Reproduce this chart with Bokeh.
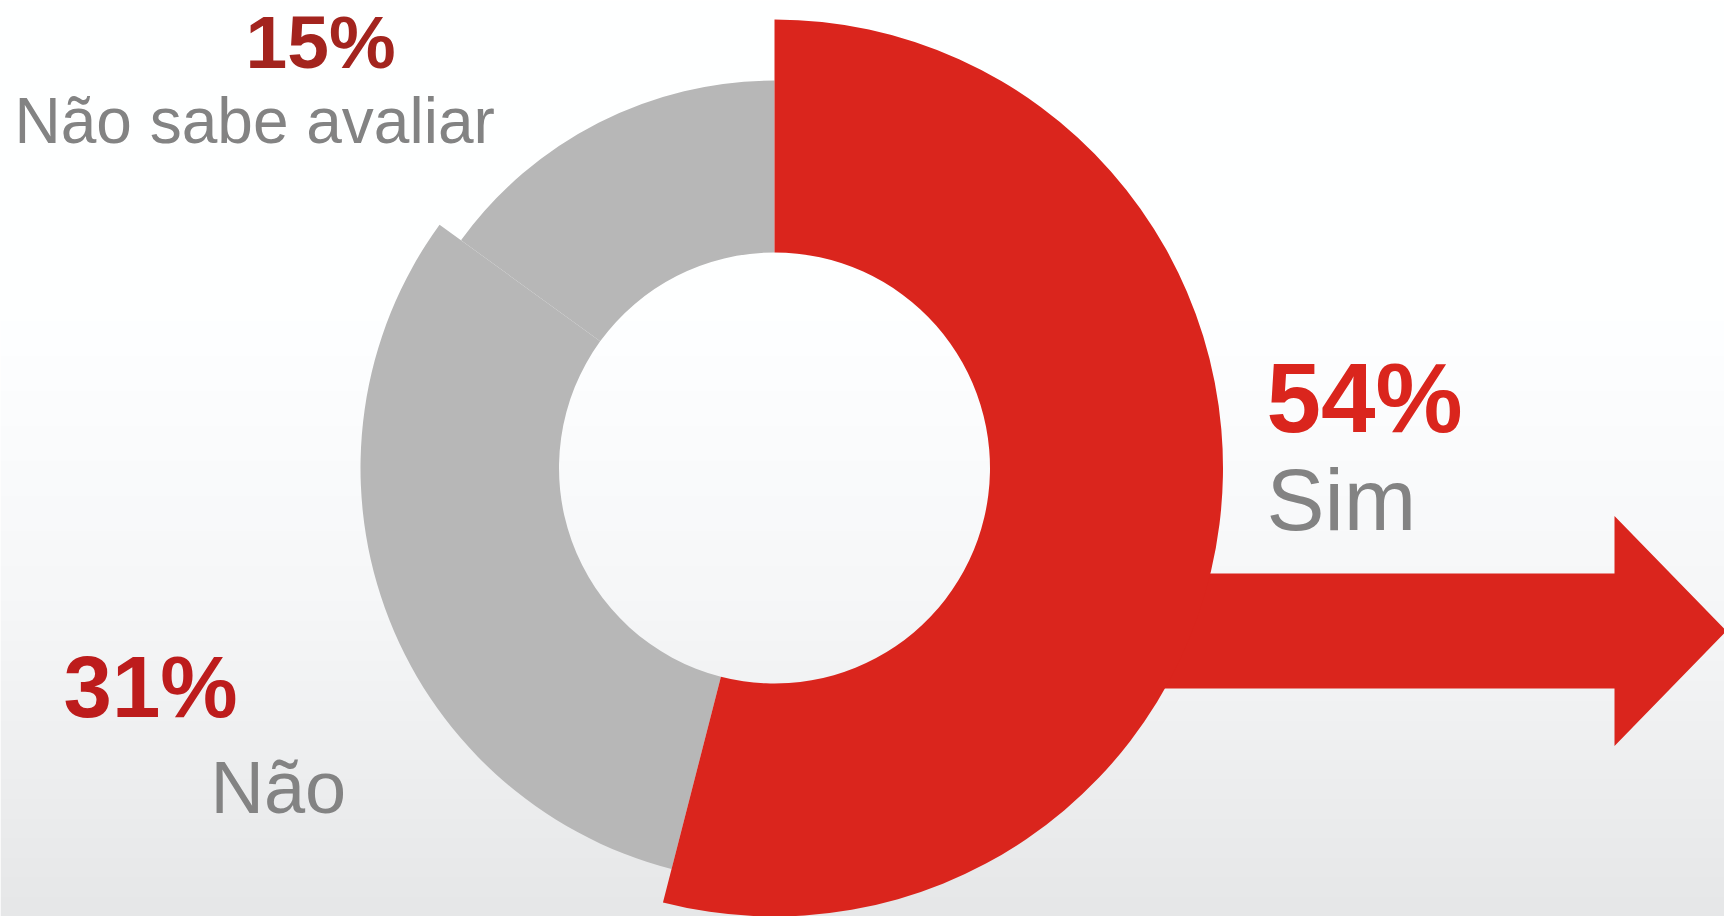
import numpy as np
from bokeh.plotting import figure
from bokeh.models import Range1d
from bokeh.core.properties import value
from bokeh.embed import file_html
from bokeh.resources import INLINE

# ---- data ----
categories = ["Sim", "Não", "Não sabe avaliar"]
shares = [54, 31, 15]

# ---- styles / layout ----
slice_colors = ["#da251d", "#b7b7b7", "#b7b7b7"]
pct_colors = ["#da251d", "#bd1c1c", "#a3241e"]
outer_r = [448.5, 414.0, 387.5]
inner_r = 215.5
W, H = 1724, 916
cx, cy = 774.0, H - 467.5

pct_x = [1266, 63, 245]
pct_base = [433, 717, 68]          # baseline, pixels from top
pct_size = [98, 87, 75]
lab_x = [1266, 210, 14]
lab_base = [530, 814, 144]
lab_size = [87, 74, 64]
BASE_FIX = 0.36  # em offset of the renderer's alphabetic baseline

p = figure(width=W, height=H, x_range=Range1d(0, W), y_range=Range1d(0, H),
           output_backend="svg", toolbar_location=None, min_border=0,
           outline_line_color=None)
p.axis.visible = False
p.grid.visible = False
p.background_fill_color = "white"
p.border_fill_color = "white"

# background gradient (white top -> light gray bottom)
ys = np.arange(H)  # row 0 = bottom
ypix = H - 1 - ys
shade = np.interp(ypix, [0, 320, 600, 720, 916], [255, 254, 246, 240, 230])
img = np.zeros((H, 1), dtype=np.uint32)
view = img.view(dtype=np.uint8).reshape((H, 1, 4))
view[:, 0, 0] = shade.astype(np.uint8)
view[:, 0, 1] = np.clip(shade + 1, 0, 255).astype(np.uint8)
view[:, 0, 2] = np.clip(shade + 2, 0, 255).astype(np.uint8)
view[:, 0, 3] = 255
p.image_rgba(image=[img], x=0, y=0, dw=W, dh=H)

# donut slices: start at 12 o'clock, clockwise
fr = np.array(shares, dtype=float) / sum(shares)
ends = np.pi / 2 - 2 * np.pi * np.cumsum(fr)
starts = np.concatenate([[np.pi / 2], ends[:-1]])

def wedge(i):
    p.annular_wedge(x=cx, y=cy, inner_radius=inner_r, outer_radius=outer_r[i],
                    start_angle=starts[i], end_angle=ends[i], direction="clock",
                    fill_color=slice_colors[i], line_color=None)

wedge(2)
wedge(1)

# arrow coming out of the "Sim" slice
band_top, band_bot = H - 573, H - 688
head_x, head_top, head_bot, tip_x = 1614, H - 515.5, H - 745.5, 1726
mid = (band_top + band_bot) / 2
p.patch(x=[1000, head_x, head_x, tip_x, head_x, head_x, 1000],
        y=[band_top, band_top, head_top, mid, head_bot, band_bot, band_bot],
        fill_color=slice_colors[0], line_color=None)

wedge(0)

# labels
pct_text = [f"{v}%" for v in shares]
for i in range(3):
    p.text(x=[pct_x[i]], y=[H - pct_base[i] + BASE_FIX * pct_size[i]], text=[pct_text[i]],
           text_font=value("Liberation Sans"), text_font_style="bold",
           text_font_size=f"{pct_size[i]}px", text_color=pct_colors[i],
           text_align="left", text_baseline="alphabetic")
    p.text(x=[lab_x[i]], y=[H - lab_base[i] + BASE_FIX * lab_size[i]], text=[categories[i]],
           text_font=value("Liberation Sans"), text_font_style="normal",
           text_font_size=f"{lab_size[i]}px", text_color="#838383",
           text_align="left", text_baseline="alphabetic")

open("out.html", "w").write(file_html(p, INLINE))
